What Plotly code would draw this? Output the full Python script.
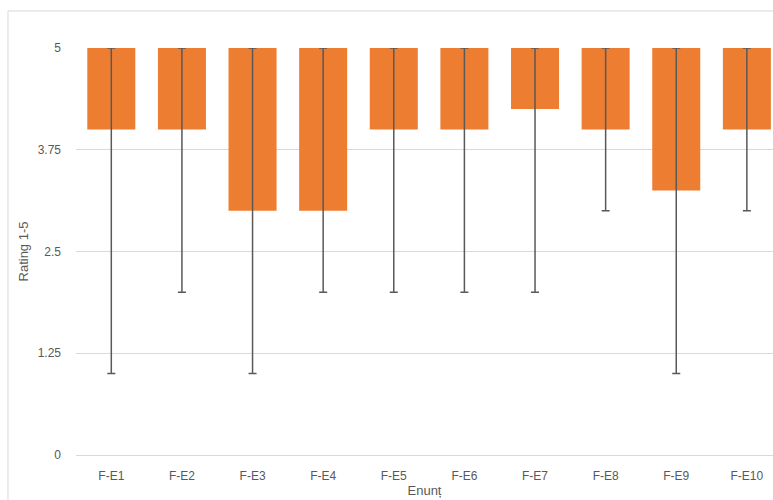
import plotly.graph_objects as go

categories = ["F-E1", "F-E2", "F-E3", "F-E4", "F-E5", "F-E6", "F-E7", "F-E8", "F-E9", "F-E10"]
box_low = [4, 4, 3, 3, 4, 4, 4.25, 4, 3.25, 4]
box_high = [5, 5, 5, 5, 5, 5, 5, 5, 5, 5]
min_val = [1, 2, 1, 2, 2, 2, 2, 3, 1, 3]
max_val = [5, 5, 5, 5, 5, 5, 5, 5, 5, 5]

fig = go.Figure()

# floating bars from lower value up to upper value
fig.add_trace(go.Bar(
    x=categories,
    y=[h - l for h, l in zip(box_high, box_low)],
    base=box_low,
    width=0.68,
    marker=dict(color="#ED7D31", line=dict(width=0)),
    showlegend=False,
    hoverinfo="skip",
))

# whiskers min..max
fig.add_trace(go.Scatter(
    x=categories,
    y=max_val,
    mode="markers",
    marker=dict(size=1, color="rgba(0,0,0,0)"),
    error_y=dict(
        type="data",
        symmetric=False,
        array=[0] * len(max_val),
        arrayminus=[mx - mn for mx, mn in zip(max_val, min_val)],
        color="#595959",
        thickness=1.5,
        width=4,
    ),
    cliponaxis=False,
    showlegend=False,
))

fig.update_layout(
    width=773,
    height=500,
    margin=dict(l=76, r=0, t=48, b=45),
    paper_bgcolor="white",
    plot_bgcolor="white",
    font=dict(family="Liberation Sans, Arial, sans-serif", size=12, color="#595959"),
    xaxis=dict(
        range=[-0.5, 9.37],
        showgrid=False,
        showline=False,
        zeroline=False,
        ticks="",
        ticklabelstandoff=12,
        tickfont=dict(size=12, color="#595959"),
        title=dict(text="Enunț", font=dict(size=13, color="#595959"), standoff=3),
    ),
    yaxis=dict(
        range=[0, 5],
        tickvals=[0, 1.25, 2.5, 3.75, 5],
        ticktext=["0", "1.25", "2.5", "3.75", "5"],
        showgrid=True,
        gridcolor="#d9d9d9",
        gridwidth=1,
        zeroline=True,
        zerolinecolor="#d9d9d9",
        zerolinewidth=1,
        showline=False,
        ticks="",
        ticklabelstandoff=14,
        tickfont=dict(size=12, color="#595959"),
        title=dict(text="Rating 1-5", font=dict(size=13, color="#595959"), standoff=6),
    ),
    shapes=[dict(
        type="rect", xref="paper", yref="paper",
        x0=-0.0976, x1=1.05, y0=-0.2, y1=1.091,
        line=dict(color="#d9d9d9", width=1), fillcolor="rgba(0,0,0,0)",
        layer="below",
    )],
)

fig.write_html("out.html", config={"displayModeBar": False},
               post_script="document.body.style.margin='0';")
